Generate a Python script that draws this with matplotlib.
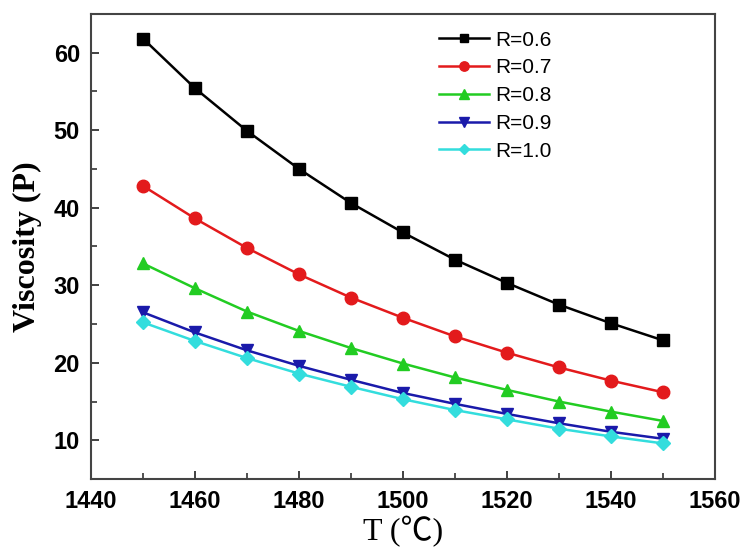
import matplotlib
matplotlib.use("Agg")
import matplotlib.pyplot as plt
from matplotlib.ticker import MultipleLocator

T = [1450, 1460, 1470, 1480, 1490, 1500, 1510, 1520, 1530, 1540, 1550]
r06 = [61.8, 55.4, 49.9, 45.0, 40.6, 36.8, 33.3, 30.3, 27.5, 25.1, 22.9]
r07 = [42.8, 38.6, 34.8, 31.4, 28.4, 25.8, 23.4, 21.3, 19.4, 17.7, 16.2]
r08 = [32.8, 29.6, 26.6, 24.1, 21.9, 19.9, 18.1, 16.5, 15.0, 13.7, 12.5]
r09 = [26.5, 23.9, 21.6, 19.6, 17.8, 16.1, 14.7, 13.4, 12.2, 11.1, 10.2]
r10 = [25.2, 22.8, 20.6, 18.6, 16.9, 15.3, 13.9, 12.7, 11.5, 10.5, 9.6]
labels = ["R=0.6", "R=0.7", "R=0.8", "R=0.9", "R=1.0"]

series = [r06, r07, r08, r09, r10]
colors = ["#000000", "#e31a1c", "#22cc22", "#1a1aaa", "#33dddd"]
markers = ["s", "o", "^", "v", "D"]
msizes = [8, 9, 9, 9, 7]

fig = plt.figure(figsize=(7.46, 5.5), dpi=100)
ax = fig.add_axes([0.122, 0.129, 0.836, 0.846])

for y, c, m, ms, lab in zip(series, colors, markers, msizes, labels):
    ax.plot(T, y, color=c, marker=m, markersize=ms, linewidth=1.8, label=lab)

ax.set_xlim(1440, 1560)
ax.set_ylim(5, 65)
ax.xaxis.set_major_locator(MultipleLocator(20))
ax.xaxis.set_minor_locator(MultipleLocator(10))
ax.yaxis.set_major_locator(MultipleLocator(10))
ax.yaxis.set_minor_locator(MultipleLocator(5))
ax.tick_params(which="both", direction="in", color="#333333")
ax.tick_params(which="major", length=6, width=1.3)
ax.tick_params(which="minor", length=4, width=1.2)
for s in ax.spines.values():
    s.set_color("#444444")
    s.set_linewidth(1.5)

for lbl in ax.get_xticklabels() + ax.get_yticklabels():
    lbl.set_fontfamily("Liberation Sans")
    lbl.set_fontweight("bold")
    lbl.set_fontsize(17)
ax.tick_params(axis="x", pad=8)
ax.tick_params(axis="y", pad=8)

ax.set_ylabel("Viscosity (P)", family="Liberation Serif", fontweight="bold", fontsize=23, labelpad=8)
ax.set_xlabel("T (\u2103)", family=["Liberation Serif", "Noto Sans CJK SC"], fontsize=23, labelpad=2)

leg = ax.legend(loc="upper left", bbox_to_anchor=(0.535, 0.995), frameon=False,
                prop={"family": "Liberation Sans", "size": 15}, markerscale=0.75,
                handlelength=2.4, handletextpad=0.3, labelspacing=0.42, borderaxespad=0.3)

fig.savefig("out.png", dpi=100)
